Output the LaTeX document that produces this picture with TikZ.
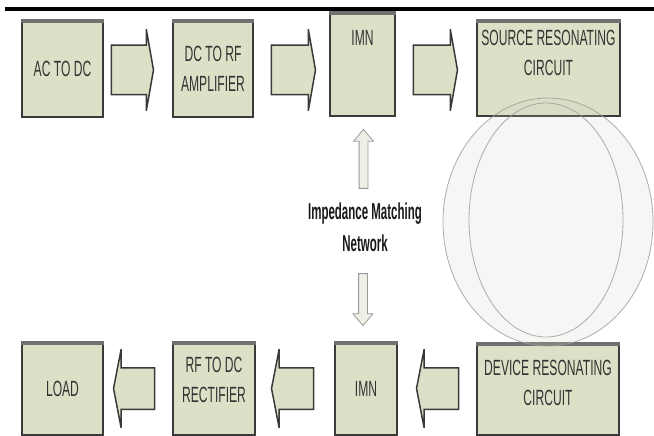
\documentclass[tikz,border=0pt]{standalone}
\usepackage{fontspec}
\setmainfont{Liberation Sans}
\newfontfamily\boxfont[FakeStretch=0.55]{Liberation Sans}
\newfontfamily\notefont[FakeStretch=0.5]{Liberation Sans}
\usetikzlibrary{positioning,calc,shapes.arrows}
\definecolor{boxfill}{HTML}{DCE0C6}
\definecolor{boxline}{HTML}{3A3A3A}
\definecolor{boxtop}{HTML}{707070}
\definecolor{discfill}{HTML}{D2D2C3}
\definecolor{discline}{HTML}{9A9A9A}
\definecolor{thinfill}{HTML}{EFEFE8}
\tikzset{
    block/.style={draw=boxline,line width=1.5pt,fill=boxfill,inner sep=0pt,
        align=center,text=black!80,font=\boxfont\fontsize{22}{30}\selectfont},
    topedge/.style={draw=boxtop,line width=4pt},
    fatarrow/.style={single arrow,draw=boxline,line width=1.5pt,fill=boxfill,
        inner xsep=0pt,anchor=tip,text height=0pt,text depth=0pt},
    toparrow/.style={fatarrow,inner ysep=24pt,single arrow tip angle=160,
        single arrow head extend=16pt},
    botarrow/.style={fatarrow,inner ysep=20pt,single arrow tip angle=158,
        single arrow head extend=18.5pt},
    thinarrow/.style={single arrow,draw=discline,line width=0.8pt,fill=thinfill,
        inner xsep=0pt,inner ysep=4pt,text height=0pt,text depth=0pt,anchor=tip,
        single arrow tip angle=80,single arrow head extend=5.5pt},
    note/.style={align=center,text=black!90,
        font=\notefont\bfseries\fontsize{23}{32}\selectfont},
    disc/.style={draw=discline,line width=0.8pt,draw opacity=0.8,
        fill=discfill,fill opacity=0.18}
}
\begin{document}
\begin{tikzpicture}[x=1pt,y=-1pt]
    \useasboundingbox[fill=white] (0,0) rectangle (654,436);
    \draw[line width=4pt] (5,9)--(654,9);
    % top row
    \node[block,minimum width=81pt,minimum height=97pt] (ac) at (62.5,68.5) {AC TO DC};
    \node[block,minimum width=80pt,minimum height=97pt] (dcrf) at (213,68.5) {DC TO RF\\AMPLIFIER};
    \node[block,minimum width=65pt,minimum height=104pt,text depth=52pt] (imn1) at (362.5,64) {IMN};
    \node[block,minimum width=143pt,minimum height=96pt,text depth=30pt] (src) at (548.5,68) {SOURCE RESONATING\\CIRCUIT};
    % bottom row
    \node[block,minimum width=81pt,minimum height=93pt] (load) at (62.5,388.5) {LOAD};
    \node[block,minimum width=82pt,minimum height=93pt,text depth=18pt] (rfdc) at (214,388.5) {RF TO DC\\RECTIFIER};
    \node[block,minimum width=62pt,minimum height=93pt] (imn2) at (366,388.5) {IMN};
    \node[block,minimum width=142pt,minimum height=92pt,text depth=12pt] (dev) at (548,389) {DEVICE RESONATING\\CIRCUIT};
    \foreach \b in {ac,dcrf,imn1,src,load,rfdc,imn2,dev}
    {
        \draw[topedge] ([yshift=-2pt]\b.north west)--([yshift=-2pt]\b.north east);
    }
    % block arrows
    \node[toparrow,minimum height=42pt] (a1) at ($(dcrf.west)+(-18,1.5)$) {};
    \node[toparrow,minimum height=44pt] (a2) at ($(imn1.west)+(-13,6)$) {};
    \node[toparrow,minimum height=44pt] (a3) at ($(src.west)+(-18,2)$) {};
    \node[botarrow,minimum height=41pt,rotate=180] (b1) at ($(load.east)+(9,0)$) {};
    \node[botarrow,minimum height=42pt,rotate=180] (b2) at ($(rfdc.east)+(15,0)$) {};
    \node[botarrow,minimum height=42pt,rotate=180] (b3) at ($(imn2.east)+(18,0)$) {};
    % matching network note
    \node[note] (imnnote) at (365,227) {Impedance Matching\\Network};
    \node[thinarrow,minimum height=59pt,rotate=90] (up) at ($(imn1.south)+(1,12)$) {};
    \node[thinarrow,minimum height=52pt,rotate=-90] (down) at ($(imn2.north)+(-3,-15)$) {};
    % coils
    \draw[disc] (548,222) ellipse [x radius=105pt,y radius=124pt];
    \draw[disc,fill=none] (546,220) ellipse [x radius=77pt,y radius=117pt];
\end{tikzpicture}
\end{document}
